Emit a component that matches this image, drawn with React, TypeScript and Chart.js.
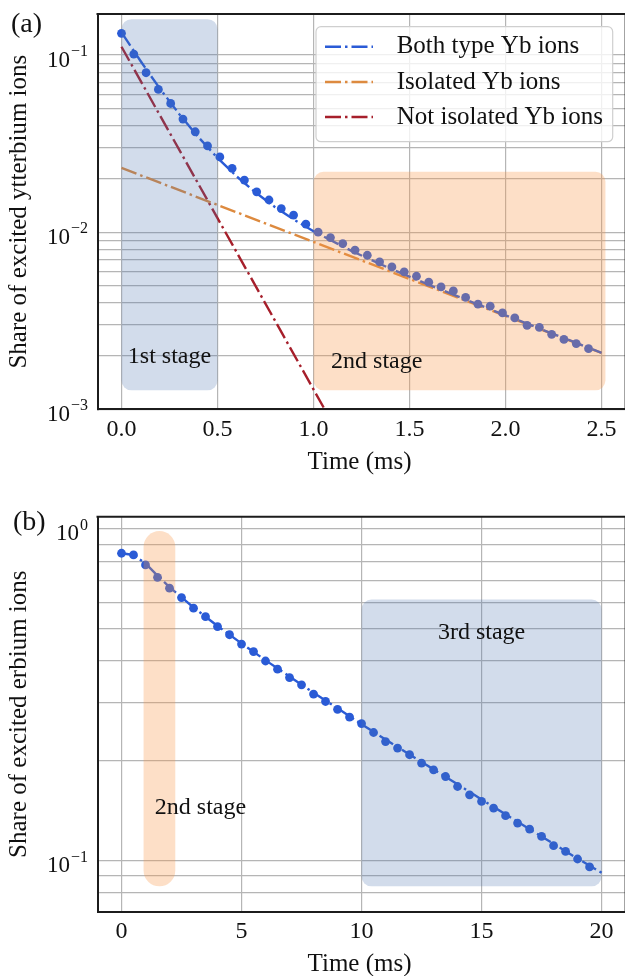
import React, { useEffect, useRef } from "react";
import { Chart, registerables } from "chart.js";

Chart.register(...registerables);

const SERIF = '"Liberation Serif", "Times New Roman", Times, serif';
const BLUE = "#2a5bd6";
const ORANGE = "#dd8a3f";
const RED = "#a61f2b";
const GRID = "#b5b5b5";
const FRAME = "#1c1c1c";
const BLUE_BOX = "rgba(76,114,176,0.25)";
const ORANGE_BOX = "rgba(247,150,70,0.30)";
const DASH = [16, 4, 2.5, 4];

// ---------------- Panel (a): ytterbium ----------------
const timesA = [
  0, 0.064, 0.128, 0.192, 0.256, 0.32, 0.384, 0.448, 0.512, 0.576, 0.64, 0.704, 0.768,
  0.832, 0.896, 0.96, 1.024, 1.088, 1.152, 1.216, 1.28, 1.344, 1.408, 1.472, 1.536, 1.6,
  1.664, 1.728, 1.792, 1.856, 1.92, 1.984, 2.048, 2.112, 2.176, 2.24, 2.304, 2.368, 2.432,
];
const bothDotsA = [
  0.1327, 0.1013, 0.0795, 0.064, 0.0533, 0.0435, 0.0369, 0.0307, 0.0266, 0.0229, 0.0197,
  0.0169, 0.0152, 0.0136, 0.0125, 0.0111, 0.01, 0.00933, 0.00863, 0.00791, 0.00741, 0.0068,
  0.00637, 0.00597, 0.00564, 0.00522, 0.00491, 0.00466, 0.00428, 0.00392, 0.00382, 0.0035,
  0.00328, 0.00298, 0.0029, 0.00265, 0.00248, 0.00235, 0.0022,
];
const fitTimesA = [0, 0.05, 0.1, 0.15, 0.2, 0.3, 0.4, 0.5, 0.6, 0.7, 0.8, 0.9, 1.0, 1.2, 1.4, 1.6, 1.8, 2.0, 2.2, 2.5];
const fitBothA = [
  0.1345, 0.1113, 0.0923, 0.0772, 0.0647, 0.04654, 0.03443, 0.02626, 0.02064, 0.01669,
  0.01384, 0.01173, 0.01012, 0.007815, 0.006227, 0.00505, 0.00413, 0.003393, 0.002794, 0.002082,
];
const isolatedTimesA = [0, 2.5];
const isolatedA = [0.02306, 0.00208];
const notIsolatedTimesA = [0, 1.1];
const notIsolatedA = [0.1114, 0.000829];
const xTicksA = [0, 0.5, 1, 1.5, 2, 2.5];
const xTickLabelsA = ["0.0", "0.5", "1.0", "1.5", "2.0", "2.5"];
const yGridA = [
  0.001, 0.002, 0.003, 0.004, 0.005, 0.006, 0.007, 0.008, 0.009,
  0.01, 0.02, 0.03, 0.04, 0.05, 0.06, 0.07, 0.08, 0.09, 0.1,
];
const yDecadesA = [0.001, 0.01, 0.1];
const yDecadeExpA = ["\u22123", "\u22122", "\u22121"];
const legendLabelsA = ["Both type Yb ions", "Isolated Yb ions", "Not isolated Yb ions"];
const stageLabelsA = ["1st stage", "2nd stage"];

// ---------------- Panel (b): erbium ----------------
const timesB = [
  0, 0.5, 1, 1.5, 2, 2.5, 3, 3.5, 4, 4.5, 5, 5.5, 6, 6.5, 7, 7.5, 8, 8.5, 9, 9.5,
  10, 10.5, 11, 11.5, 12, 12.5, 13, 13.5, 14, 14.5, 15, 15.5, 16, 16.5, 17, 17.5, 18, 18.5, 19, 19.5,
];
const dotsB = [
  0.845, 0.835, 0.779, 0.715, 0.663, 0.621, 0.577, 0.544, 0.508, 0.48, 0.45, 0.427, 0.4,
  0.378, 0.3565, 0.339, 0.318, 0.302, 0.286, 0.271, 0.259, 0.2435, 0.2287, 0.2186, 0.2087,
  0.1969, 0.1879, 0.1794, 0.1674, 0.158, 0.1509, 0.1441, 0.1367, 0.1299, 0.1246, 0.1184,
  0.111, 0.1067, 0.1012, 0.0958,
];
const fitTimesB = [0, 0.5, 1, 1.5, 2, 3, 4, 5, 6, 7, 8, 9, 10, 11, 12, 13, 14, 15, 16, 17, 18, 19, 20];
const fitB = [
  0.845, 0.835, 0.787, 0.723, 0.668, 0.58, 0.51, 0.452, 0.402, 0.359, 0.321, 0.288, 0.258,
  0.232, 0.209, 0.1885, 0.17, 0.153, 0.138, 0.1245, 0.1125, 0.1015, 0.092,
];
const xTicksB = [0, 5, 10, 15, 20];
const xTickLabelsB = ["0", "5", "10", "15", "20"];
const yGridB = [0.08, 0.09, 0.1, 0.2, 0.3, 0.4, 0.5, 0.6, 0.7, 0.8, 0.9, 1.0];
const yDecadesB = [0.1, 1];
const yDecadeExpB = ["\u22121", "0"];
const stageLabelsB = ["2nd stage", "3rd stage"];

const xTitle = "Time (ms)";

const pts = (xs: number[], ys: number[]) => xs.map((x, i) => ({ x, y: ys[i] }));

type Cfg = any;

const panelA: Cfg = {
  canvasTop: 0,
  canvasHeight: 480,
  padTop: 14,
  xAxisH: 70.7,
  xMin: -0.125,
  xMax: 2.625,
  yMin: 0.001,
  yMax: 0.1706,
  xTicks: xTicksA,
  xTickLabels: xTickLabelsA,
  yGrid: yGridA,
  yDecades: yDecadesA,
  yDecadeExp: yDecadeExpA,
  yTitle: "Share of excited ytterbium ions",
  panelLabel: "(a)",
  panelLabelPos: [11, 25],
  boxes: [
    { x0: 0, x1: 0.5, y0: 0.00128, y1: 0.1595, color: BLUE_BOX, r: 10 },
    { x0: 1.0, x1: 2.52, y0: 0.00128, y1: 0.02193, color: ORANGE_BOX, r: 10 },
  ],
  stageText: [
    { text: stageLabelsA[0], x: 0.25, y: 0.00197 },
    { text: stageLabelsA[1], x: 1.329, y: 0.001845 },
  ],
  legend: {
    x: 316, y: 26.7, w: 296.7, h: 115,
    rows: [46.7, 82, 117],
    lineX0: 325, lineX1: 373, textX: 396.7,
    labels: legendLabelsA,
    colors: [BLUE, ORANGE, RED],
  },
  datasets: [
    {
      label: "data",
      data: pts(timesA, bothDotsA),
      showLine: false,
      pointRadius: 4.4,
      pointBorderWidth: 0,
      pointBackgroundColor: BLUE,
      borderColor: BLUE,
    },
    {
      label: legendLabelsA[0],
      data: pts(fitTimesA, fitBothA),
      borderColor: BLUE, borderWidth: 2.4, borderDash: DASH, pointRadius: 0, tension: 0,
    },
    {
      label: legendLabelsA[1],
      data: pts(isolatedTimesA, isolatedA),
      borderColor: ORANGE, borderWidth: 2.4, borderDash: DASH, pointRadius: 0,
    },
    {
      label: legendLabelsA[2],
      data: pts(notIsolatedTimesA, notIsolatedA),
      borderColor: RED, borderWidth: 2.4, borderDash: DASH, pointRadius: 0,
    },
  ],
};

const panelB: Cfg = {
  canvasTop: 480,
  canvasHeight: 510,
  padTop: 36.7,
  xAxisH: 78.3,
  xMin: -1,
  xMax: 21,
  yMin: 0.0702,
  yMax: 1.089,
  xTicks: xTicksB,
  xTickLabels: xTickLabelsB,
  yGrid: yGridB,
  yDecades: yDecadesB,
  yDecadeExp: yDecadeExpB,
  yTitle: "Share of excited erbium ions",
  panelLabel: "(b)",
  panelLabelPos: [13, 43],
  boxes: [
    { x0: 0.92, x1: 2.24, y0: 0.0837, y1: 0.986, color: ORANGE_BOX, r: 16 },
    { x0: 10, x1: 20, y0: 0.0837, y1: 0.613, color: BLUE_BOX, r: 10 },
  ],
  stageText: [
    { text: stageLabelsB[0], x: 3.29, y: 0.1445 },
    { text: stageLabelsB[1], x: 15, y: 0.486 },
  ],
  legend: null,
  datasets: [
    {
      label: "data",
      data: pts(timesB, dotsB),
      showLine: false,
      pointRadius: 4.4,
      pointBorderWidth: 0,
      pointBackgroundColor: BLUE,
      borderColor: BLUE,
    },
    {
      label: "fit",
      data: pts(fitTimesB, fitB),
      borderColor: BLUE, borderWidth: 2.4, borderDash: DASH, pointRadius: 0, tension: 0,
    },
  ],
};

function makeDecor(cfg: Cfg) {
  return {
    id: "decor",
    afterDatasetsDraw(chart: any) {
      const ctx: CanvasRenderingContext2D = chart.ctx;
      const xs = chart.scales.x;
      const ys = chart.scales.y;
      const a = chart.chartArea;
      ctx.save();
      // shaded stage boxes (drawn over the data, translucent)
      for (const b of cfg.boxes) {
        const l = xs.getPixelForValue(b.x0);
        const r = xs.getPixelForValue(b.x1);
        const t = ys.getPixelForValue(b.y1);
        const bt = ys.getPixelForValue(b.y0);
        ctx.beginPath();
        (ctx as any).roundRect(l, t, r - l, bt - t, b.r);
        ctx.fillStyle = b.color;
        ctx.fill();
      }
      // stage labels
      ctx.fillStyle = "#111";
      ctx.font = `24px ${SERIF}`;
      ctx.textAlign = "center";
      ctx.textBaseline = "middle";
      for (const s of cfg.stageText) {
        ctx.fillText(s.text, xs.getPixelForValue(s.x), ys.getPixelForValue(s.y));
      }
      // top / right spines
      ctx.strokeStyle = FRAME;
      ctx.lineWidth = 2;
      ctx.beginPath();
      ctx.moveTo(a.left - 1, a.top);
      ctx.lineTo(a.right, a.top);
      ctx.lineTo(a.right, a.bottom);
      ctx.stroke();
      // x tick labels
      ctx.fillStyle = "#111";
      ctx.font = `24px ${SERIF}`;
      ctx.textAlign = "center";
      ctx.textBaseline = "middle";
      cfg.xTicks.forEach((v: number, i: number) => {
        ctx.fillText(cfg.xTickLabels[i], xs.getPixelForValue(v), a.bottom + 20);
      });
      // x title
      ctx.font = `25px ${SERIF}`;
      ctx.fillText(xTitle, (a.left + a.right) / 2 - 2, a.bottom + 53);
      // y decade labels with superscript exponents
      const right = 88;
      cfg.yDecades.forEach((v: number, i: number) => {
        const y = ys.getPixelForValue(v);
        ctx.textBaseline = "alphabetic";
        ctx.font = `16px ${SERIF}`;
        const exp = cfg.yDecadeExp[i];
        const wSup = ctx.measureText(exp).width;
        ctx.textAlign = "left";
        ctx.fillText(exp, right - wSup, y + 1);
        ctx.font = `23px ${SERIF}`;
        ctx.textAlign = "right";
        ctx.fillText("10", right - wSup - 1, y + 11.5);
      });
      // y title
      ctx.save();
      ctx.translate(19, (a.top + a.bottom) / 2);
      ctx.rotate(-Math.PI / 2);
      ctx.font = `25px ${SERIF}`;
      ctx.textAlign = "center";
      ctx.textBaseline = "middle";
      ctx.fillText(cfg.yTitle, 0, 0);
      ctx.restore();
      // panel label
      ctx.font = `28px ${SERIF}`;
      ctx.textAlign = "left";
      ctx.textBaseline = "middle";
      ctx.fillText(cfg.panelLabel, cfg.panelLabelPos[0], cfg.panelLabelPos[1]);
      // legend
      const lg = cfg.legend;
      if (lg) {
        ctx.beginPath();
        (ctx as any).roundRect(lg.x, lg.y, lg.w, lg.h, 5);
        ctx.fillStyle = "rgba(255,255,255,0.8)";
        ctx.fill();
        ctx.strokeStyle = "#cfcfcf";
        ctx.lineWidth = 1.2;
        ctx.stroke();
        lg.labels.forEach((lab: string, i: number) => {
          const y = lg.rows[i];
          ctx.save();
          ctx.strokeStyle = lg.colors[i];
          ctx.lineWidth = 2.4;
          ctx.setLineDash(DASH);
          ctx.beginPath();
          ctx.moveTo(lg.lineX0, y);
          ctx.lineTo(lg.lineX1, y);
          ctx.stroke();
          ctx.restore();
          ctx.fillStyle = "#111";
          ctx.font = `25px ${SERIF}`;
          ctx.textAlign = "left";
          ctx.textBaseline = "middle";
          ctx.fillText(lab, lg.textX, y);
        });
      }
      ctx.restore();
    },
  };
}

function Panel({ cfg }: { cfg: Cfg }) {
  const ref = useRef<HTMLCanvasElement>(null);
  useEffect(() => {
    const chart = new Chart(ref.current as HTMLCanvasElement, {
      type: "line",
      data: { datasets: cfg.datasets },
      options: {
        animation: false,
        responsive: false,
        devicePixelRatio: 1,
        layout: { padding: { top: cfg.padTop, right: 14.4, left: 0, bottom: 0 } },
        plugins: { legend: { display: false }, tooltip: { enabled: false }, title: { display: false } },
        scales: {
          x: {
            type: "linear",
            min: cfg.xMin,
            max: cfg.xMax,
            bounds: "data",
            afterBuildTicks: (s: any) => {
              s.ticks = cfg.xTicks.map((v: number) => ({ value: v }));
            },
            afterFit: (s: any) => {
              s.height = cfg.xAxisH;
            },
            ticks: { display: false },
            grid: { color: GRID, lineWidth: 1.2, drawTicks: false },
            border: { color: FRAME, width: 2 },
          },
          y: {
            type: "logarithmic",
            min: cfg.yMin,
            max: cfg.yMax,
            bounds: "data",
            afterBuildTicks: (s: any) => {
              s.ticks = cfg.yGrid.map((v: number) => ({ value: v }));
            },
            afterFit: (s: any) => {
              s.width = 97.5;
            },
            ticks: { display: false },
            grid: { color: GRID, lineWidth: 1.2, drawTicks: false },
            border: { color: FRAME, width: 2 },
          },
        },
      } as any,
      plugins: [makeDecor(cfg)],
    });
    return () => chart.destroy();
  }, []);
  return (
    <canvas
      ref={ref}
      width={640}
      height={cfg.canvasHeight}
      style={{ position: "absolute", left: 0, top: cfg.canvasTop, width: 640, height: cfg.canvasHeight }}
    />
  );
}

export default function App() {
  return (
    <div
      style={{
        position: "absolute",
        left: 0,
        top: 0,
        width: 625,
        height: 976,
        overflow: "hidden",
        background: "#fff",
      }}
    >
      <Panel cfg={panelA} />
      <Panel cfg={panelB} />
    </div>
  );
}
